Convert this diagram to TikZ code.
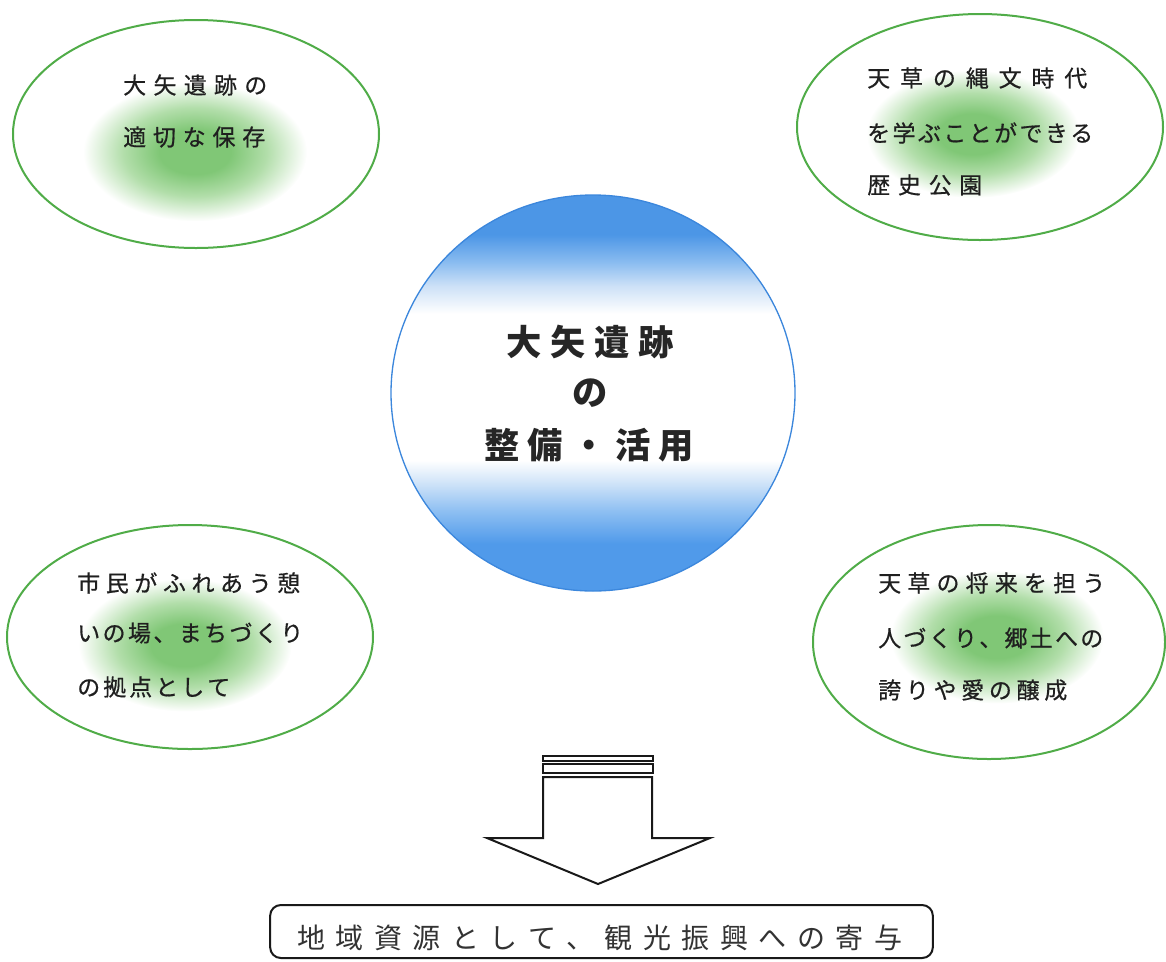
\documentclass[tikz,border=0pt]{standalone}
\usepackage{fontspec}
\newfontfamily\jp{Noto Sans CJK JP}
\newfontfamily\jpm{Noto Sans CJK JP}[FakeBold=0.6]
\usetikzlibrary{shapes.geometric}
\definecolor{ellgreen}{RGB}{80,172,72}
\definecolor{glowc}{RGB}{128,199,118}
\definecolor{glowm}{RGB}{178,222,170}
\definecolor{bluetop}{RGB}{76,150,230}
\definecolor{bluebot}{RGB}{80,154,234}
\definecolor{bluemidt}{RGB}{138,188,240}
\definecolor{bluelt}{RGB}{205,225,247}
\definecolor{bluemidb}{RGB}{140,190,242}
\definecolor{blueltb}{RGB}{205,226,248}
\definecolor{blueedge}{RGB}{60,135,220}
\pgfdeclareradialshading{greenglow}{\pgfpoint{0bp}{0bp}}{color(0bp)=(glowc); color(8bp)=(glowc); color(16bp)=(glowm); color(25bp)=(white); color(50bp)=(white)}
\pgfdeclareverticalshading{blueband}{100bp}{color(0bp)=(bluebot); color(25bp)=(bluebot); color(31bp)=(bluebot); color(35bp)=(bluemidb); color(38.5bp)=(blueltb); color(41.5bp)=(white); color(60bp)=(white); color(63.5bp)=(bluelt); color(66.5bp)=(bluemidt); color(70bp)=(bluetop); color(75bp)=(bluetop); color(100bp)=(bluetop)}
\makeatletter
\def\spr@end{\spr@end}
\def\spr@next#1{\ifx#1\spr@end\else\hfill#1\expandafter\spr@next\fi}
\def\spr@first#1{#1\spr@next}
\newcommand\spreadbox[2]{\hbox to \dimexpr#1pt*3/4\relax{\spr@first#2\spr@end}}
\makeatother
\begin{document}
\begin{tikzpicture}[x=0.75pt,y=-0.75pt,
  ell/.style={ellipse, draw=ellgreen, line width=1.5pt, inner sep=0pt},
  etxt/.style={anchor=west, inner sep=0pt, text=black!88, font=\jpm\fontsize{17.2}{20}\selectfont},
  ctxt/.style={inner sep=0pt, text=black!85, font=\jp\bfseries\fontsize{26.5}{30}\selectfont},
  glowshape/.style={shading=greenglow},
  blackline/.style={draw=black!90, line width=1.5pt, line join=miter}]
\useasboundingbox (0,0) rectangle (1166,961);
% glows
\shade[glowshape] (195,152) ellipse [x radius=84pt, y radius=52pt];
\shade[glowshape] (973,134) ellipse [x radius=80pt, y radius=48pt];
\shade[glowshape] (185,645) ellipse [x radius=80pt, y radius=50pt];
\shade[glowshape] (997,637) ellipse [x radius=80pt, y radius=50pt];
% ellipses
\node[ell, minimum width=274.5pt, minimum height=171pt] (tl) at (196,134) {};
\node[ell, minimum width=274.5pt, minimum height=169.5pt] (tr) at (980,127) {};
\node[ell, minimum width=274.5pt, minimum height=168pt] (bl) at (190,637) {};
\node[ell, minimum width=264pt, minimum height=175.5pt] (br) at (989,642) {};
% centre circle
\node[ellipse, shade, shading=blueband, draw=blueedge, line width=1pt, minimum width=303pt, minimum height=297pt, inner sep=0pt] (core) at (593,393) {};
% texts
\node[etxt] (tla) at (123,85) {\spreadbox{144}{大矢遺跡の}};
\node[etxt] (tlb) at (123,137) {\spreadbox{142}{適切な保存}};
\node[etxt] (tra) at (867,78) {\spreadbox{220}{天草の縄文時代}};
\node[etxt] (trb) at (867,133) {\spreadbox{226}{を学ぶことができる}};
\node[etxt] (trc) at (867,185) {\spreadbox{115}{歴史公園}};
\node[etxt] (bla) at (77,583) {\spreadbox{223}{市民がふれあう憩}};
\node[etxt] (blb) at (77,633) {\spreadbox{226}{いの場、まちづくり}};
\node[etxt] (blc) at (77,687) {\spreadbox{153}{の拠点として}};
\node[etxt] (bra) at (878,583) {\spreadbox{227}{天草の将来を担う}};
\node[etxt] (brb) at (878,638) {\spreadbox{225}{人づくり、郷土への}};
\node[etxt] (brc) at (878,690) {\spreadbox{189}{誇りや愛の醸成}};
\node[ctxt, anchor=west] (c1) at (506,342) {\spreadbox{168}{大矢遺跡}};
\node[ctxt] (c2) at (590,393) {の};
\node[ctxt, anchor=west] (c3) at (484,445) {\spreadbox{210}{整備・活用}};
% block arrow
\draw[blackline, line width=1.2pt] (543,756) rectangle (653,761);
\draw[blackline, line width=1.2pt] (543,764) rectangle (653,773);
\draw[blackline] (543,777) -- (543,838) -- (487,838) -- (598,884) -- (710,838) -- (652,838) -- (652,777) -- cycle;
% goal box
\node[draw=black!90, line width=1.5pt, rounded corners=8pt, minimum width=497pt, minimum height=39.75pt, inner sep=0pt] (goal) at (601.5,931.5) {};
\node[anchor=west, inner sep=0pt, text=black!80, font=\jp\fontsize{21}{24}\selectfont] (goaltxt) at (297,938) {\spreadbox{605}{地域資源として、観光振興への寄与}};
\end{tikzpicture}
\end{document}
